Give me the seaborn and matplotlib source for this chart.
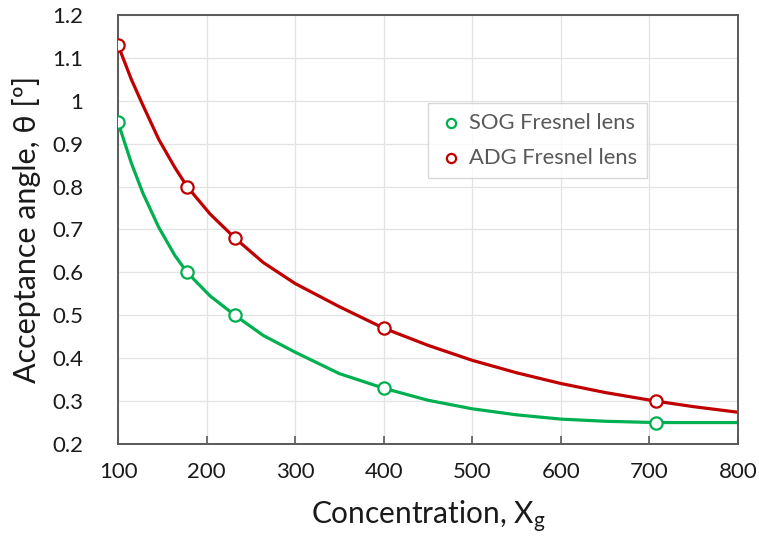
import numpy as np
import pandas as pd
import matplotlib
matplotlib.use("Agg")
import matplotlib.pyplot as plt
import seaborn as sns

# measured points (markers)
concentration = [100, 178, 232, 400, 707]
sog_angle = [0.95, 0.60, 0.50, 0.33, 0.25]
adg_angle = [1.13, 0.80, 0.68, 0.47, 0.30]
series_names = ["SOG Fresnel lens", "ADG Fresnel lens"]

# smooth curves
curve_x = [100, 115, 128, 146, 164, 178, 204, 232, 264, 300, 350, 400, 450, 500,
           550, 600, 650, 707, 750, 800]
sog_curve = [0.95, 0.855, 0.785, 0.705, 0.64, 0.60, 0.545, 0.50, 0.453, 0.414, 0.364,
             0.33, 0.302, 0.282, 0.268, 0.258, 0.253, 0.25, 0.25, 0.25]
adg_curve = [1.13, 1.05, 0.99, 0.91, 0.845, 0.80, 0.736, 0.68, 0.623, 0.574, 0.520,
             0.47, 0.430, 0.395, 0.366, 0.341, 0.32, 0.30, 0.287, 0.274]

x_ticks = [100, 200, 300, 400, 500, 600, 700, 800]
y_ticks = [0.2, 0.3, 0.4, 0.5, 0.6, 0.7, 0.8, 0.9, 1.0, 1.1, 1.2]
y_tick_labels = ["0.2", "0.3", "0.4", "0.5", "0.6", "0.7", "0.8", "0.9", "1", "1.1", "1.2"]

sns.set_theme(style="white")
plt.rcParams['font.family'] = ['Lato', 'DejaVu Sans']
plt.rcParams['mathtext.fontset'] = 'custom'
plt.rcParams['mathtext.rm'] = 'Lato'
plt.rcParams['mathtext.it'] = 'Lato:italic'

green = "#00B050"
red = "#C00000"
spine_col = "#595959"
text_col = "#1a1a1a"

fig = plt.figure(figsize=(7.59, 5.41), dpi=100)
ax = fig.add_axes([0.1555, 0.1793, 0.9723 - 0.1555, 0.9723 - 0.1793])

cdf = pd.DataFrame({"x": curve_x, "sog": sog_curve, "adg": adg_curve})
sns.lineplot(data=cdf, x="x", y="adg", color=red, lw=2.3, ax=ax, sort=False,
             estimator=None, zorder=2)
sns.lineplot(data=cdf, x="x", y="sog", color=green, lw=2.3, ax=ax, sort=False,
             estimator=None, zorder=2)

df = pd.DataFrame({"x": concentration, "sog": sog_angle, "adg": adg_angle})
for col, c, name in (("sog", green, series_names[0]), ("adg", red, series_names[1])):
    sns.scatterplot(data=df, x="x", y=col, ax=ax, marker="o", s=78, facecolor="white",
                    edgecolor=c, linewidth=1.6, zorder=3, label=name)

ax.set_xlim(100, 800)
ax.set_ylim(0.2, 1.2)
ax.set_xticks(x_ticks)
ax.set_yticks(y_ticks)
ax.set_yticklabels(y_tick_labels)
ax.grid(True, color="#E3E3E3", lw=0.9)
ax.set_axisbelow(True)
for s in ax.spines.values():
    s.set_color(spine_col)
    s.set_linewidth(1.4)
ax.tick_params(axis="x", direction="in", length=6, width=1.2, color=spine_col, bottom=True,
               labelsize=16, pad=13, labelcolor=text_col)
ax.tick_params(axis="y", length=0, labelsize=16, pad=25, labelcolor=text_col)
ax.set_xlabel("Concentration, X$_\\mathrm{g}$", fontsize=21.5, labelpad=12, color=text_col)
ax.set_ylabel("Acceptance angle, θ [º]", fontsize=22, labelpad=8, color=text_col)

leg = ax.legend(loc="upper left", bbox_to_anchor=(0.5, 0.795), borderaxespad=0,
                frameon=True, fancybox=False, fontsize=15.8, handletextpad=0.2,
                borderpad=0.45, labelspacing=0.7, markerscale=0.75, handlelength=1.2)
leg.get_frame().set_edgecolor("#D0D0D0")
leg.get_frame().set_linewidth(1.0)
for t in leg.get_texts():
    t.set_color("#595959")

fig.savefig("out.png", dpi=100)
